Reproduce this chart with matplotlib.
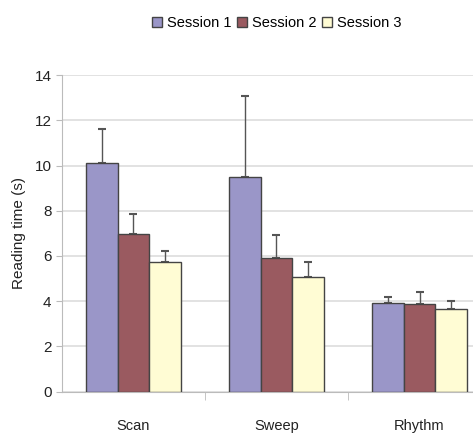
import numpy as np
import matplotlib.pyplot as plt
from matplotlib.patches import Patch

plt.rcParams['font.family'] = ['Liberation Sans', 'DejaVu Sans']

categories = ['Scan', 'Sweep', 'Rhythm']
sessions = ['Session 1', 'Session 2', 'Session 3']
means = [
    [10.1, 9.5, 3.93],   # Session 1
    [6.97, 5.92, 3.86],  # Session 2
    [5.72, 5.08, 3.67],  # Session 3
]
errors = [
    [1.5, 3.6, 0.27],
    [0.9, 1.0, 0.53],
    [0.5, 0.64, 0.35],
]
colors = ['#9a96c8', '#9a5a60', '#fffcd4']

fig = plt.figure(figsize=(4.73, 4.37), dpi=100)
ax = fig.add_axes([0.131, 0.104, 0.869, 0.724])

x = np.arange(len(categories))
width = 0.222
for i in range(len(sessions)):
    ax.bar(x + (i - 1) * width, means[i], width, color=colors[i],
           edgecolor='#444444', linewidth=1.0, zorder=3)
    ax.errorbar(x + (i - 1) * width, means[i], yerr=[np.zeros(3), errors[i]],
                fmt='none', ecolor='#555555', elinewidth=1.0, capsize=3,
                capthick=1.5, zorder=2)

ax.set_xlim(-0.5, 2.374)
ax.set_ylim(0, 14)
ax.set_yticks(range(0, 15, 2))
ax.grid(axis='y', color='#dddddd', linewidth=1.2, zorder=0)
ax.set_axisbelow(True)

for side in ['top', 'right']:
    ax.spines[side].set_visible(False)
ax.spines['left'].set_color('#bbbbbb')
ax.spines['bottom'].set_color('#bbbbbb')

ax.set_xticks(x)
ax.set_xticklabels(categories, fontsize=10.5, color='#222222')
ax.tick_params(axis='x', which='major', length=0, pad=20)
ax.set_xticks([0.5, 1.5], minor=True)
ax.tick_params(axis='x', which='minor', length=6, color='#bbbbbb')
ax.tick_params(axis='y', length=4, color='#bbbbbb', labelsize=11, labelcolor='#222222')

ax.set_ylabel('Reading time (s)', fontsize=11, color='#222222', labelpad=6)

handles = [Patch(facecolor=c, edgecolor='#444444') for c in colors]
fig.legend(handles, sessions, loc='center', bbox_to_anchor=(0.585, 0.948), ncol=3,
           frameon=False, fontsize=10.5, handlelength=0.7, handleheight=0.7,
           handletextpad=0.3, columnspacing=0.4)

fig.savefig('out.png', dpi=100)
